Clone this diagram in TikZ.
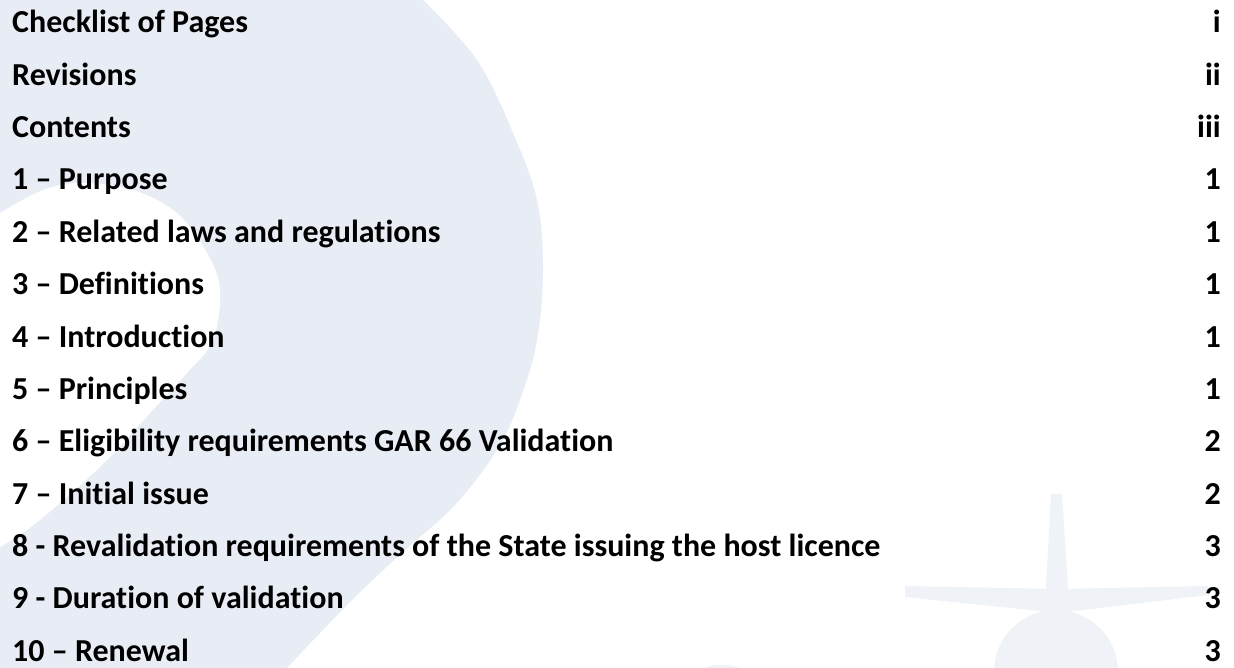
\documentclass[tikz,border=0pt]{standalone}
\usepackage{fontspec}
\setmainfont{Carlito}[Ligatures=NoCommon]
\definecolor{crescent}{RGB}{232,237,245}
\definecolor{plane}{RGB}{239,242,246}
\definecolor{tocink}{RGB}{0,0,0}
\begin{document}
\begin{tikzpicture}[x=1pt,y=-1pt,
  entry/.style={anchor=base west, inner sep=0pt, text=tocink, font=\bfseries\fontsize{32}{38}\selectfont},
  pagenum/.style={anchor=base east, inner sep=0pt, text=tocink, font=\bfseries\fontsize{32}{38}\selectfont}]
\useasboundingbox (0,0) rectangle (1234,668);
\fill[white] (0,0) rectangle (1234,668);
% crescent watermark
\fill[crescent] (0,0) -- (423,0)
  -- plot[smooth, tension=0.6] coordinates {(423,0) (477,60) (513,133) (537,200) (543,270) (537,340) (520,400) (497,450) (455,505) (405,550) (350,602) (287,668)}
  -- (0,668) -- cycle;
\fill[white] (0,213)
  -- plot[smooth, tension=0.6] coordinates {(0,213) (43,190) (83,183) (133,190) (177,213) (207,253) (220,290) (213,340) (187,373) (150,413) (110,457) (67,497) (27,530) (0,547)}
  -- cycle;
% airplane watermark
\fill[plane] (1051,494) -- (1062,494) -- (1068,590) -- (1046,590) -- cycle;
\fill[plane] (905,586) -- (1057,589) -- (1208,586) -- (1208,595) -- (1075,611) -- (1040,611) -- (905,597) -- cycle;
\fill[plane] (1056,672) circle[radius=62];
\fill[plane] (722,680) ellipse[x radius=30, y radius=15];
% entries
\node[entry] (t0) at (12,33) {Checklist of Pages};
\node[entry] (t1) at (12,85.3) {Revisions};
\node[entry] (t2) at (12,137.7) {Contents};
\node[entry] (t3) at (12,190) {1 – Purpose};
\node[entry] (t4) at (12,242.3) {2 – Related laws and regulations};
\node[entry] (t5) at (12,294.7) {3 – Definitions};
\node[entry] (t6) at (12,347) {4 – Introduction};
\node[entry] (t7) at (12,399.3) {5 – Principles};
\node[entry] (t8) at (12,451.7) {6 – Eligibility requirements GAR 66 Validation};
\node[entry] (t9) at (12,504) {7 – Initial issue};
\node[entry] (t10) at (12,556.3) {8 - Revalidation requirements of the State issuing the host licence};
\node[entry] (t11) at (12,608.7) {9 - Duration of validation};
\node[entry] (t12) at (12,661) {10 – Renewal};
% page numbers
\node[pagenum] (p0) at (1221,33) {i};
\node[pagenum] (p1) at (1221,85.3) {ii};
\node[pagenum] (p2) at (1221,137.7) {iii};
\node[pagenum] (p3) at (1221,190) {1};
\node[pagenum] (p4) at (1221,242.3) {1};
\node[pagenum] (p5) at (1221,294.7) {1};
\node[pagenum] (p6) at (1221,347) {1};
\node[pagenum] (p7) at (1221,399.3) {1};
\node[pagenum] (p8) at (1221,451.7) {2};
\node[pagenum] (p9) at (1221,504) {2};
\node[pagenum] (p10) at (1221,556.3) {3};
\node[pagenum] (p11) at (1221,608.7) {3};
\node[pagenum] (p12) at (1221,661) {3};
\end{tikzpicture}
\end{document}
